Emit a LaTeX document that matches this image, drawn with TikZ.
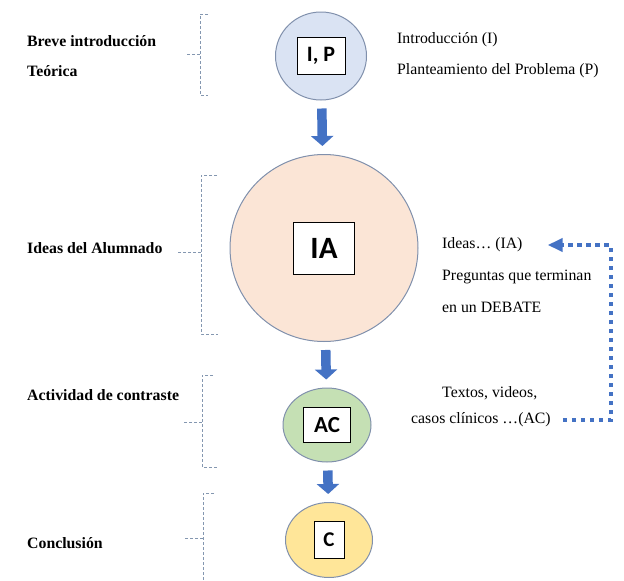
\documentclass[tikz,border=0pt]{standalone}
\usepackage{fontspec}
\setmainfont{Liberation Serif}
\newfontfamily\boxfont{Carlito}
\usetikzlibrary{arrows.meta,positioning,shapes.geometric}
\definecolor{FlowBlue}{HTML}{4472C4}
\definecolor{RimGray}{HTML}{8090AC}
\definecolor{BraceGray}{HTML}{8497B0}
\definecolor{IPBlue}{HTML}{DAE3F3}
\definecolor{IAPeach}{HTML}{FBE5D6}
\definecolor{ACGreen}{HTML}{C5E0B4}
\definecolor{CYellow}{HTML}{FFE699}

\begin{document}
\begin{tikzpicture}[
    x=1pt, y=-1pt,
    font=\fontsize{15.8}{19}\selectfont,
    stage/.style={ellipse, draw=RimGray, line width=1pt, inner sep=0pt},
    tag/.style={rectangle, draw=black, line width=0.8pt, fill=white, inner sep=0pt, font=\boxfont\bfseries\fontsize{21}{21}\selectfont},
    phase/.style={anchor=west, inner sep=0pt, font=\bfseries\fontsize{15.8}{19}\selectfont},
    note/.style={anchor=west, inner sep=0pt},
    brace/.style={draw=BraceGray, line width=0.8pt, dash pattern=on 3pt off 2pt},
    flow/.style={draw=FlowBlue, line width=9.5pt, -{Triangle[length=10pt,width=22pt]}, shorten <=8pt, shorten >=8pt},
    loopback/.style={draw=FlowBlue, line width=4.5pt, dash pattern=on 4.5pt off 4.5pt, -{Triangle[length=15pt,width=13pt]}}
]
\useasboundingbox (0,0) rectangle (624,581);

% etapas
\node[stage, fill=IPBlue, minimum width=91pt, minimum height=88pt] (ip) at (321,56) {};
\node[stage, fill=IAPeach, minimum width=188pt, minimum height=187pt] (ia) at (324,248) {};
\node[stage, fill=ACGreen, minimum width=88pt, minimum height=74pt] (ac) at (327,425) {};
\node[stage, fill=CYellow, minimum width=87pt, minimum height=75pt] (c) at (329,540) {};

\node[tag, minimum width=48pt, minimum height=37pt, font=\boxfont\bfseries\fontsize{22}{22}\selectfont] (ipbox) at (ip) {I, P};
\node[tag, minimum width=61pt, minimum height=52pt, font=\boxfont\bfseries\fontsize{31}{31}\selectfont] (iabox) at (ia) {IA};
\node[tag, minimum width=47pt, minimum height=35pt, font=\boxfont\bfseries\fontsize{23}{23}\selectfont] (acbox) at (ac) {AC};
\node[tag, minimum width=30pt, minimum height=37pt] (cbox) at (c) {C};

\draw[flow] (ip) -- (ia);
\draw[flow] (ia) -- (ac);
\draw[flow] (ac) -- (c);

% fases
\node[phase] (breve) at (27,41) {Breve introducción};
\node[phase] (teorica) at (27,71) {Teórica};
\node[phase] (ideas) at (27,248) {Ideas del Alumnado};
\node[phase] (contraste) at (27,395) {Actividad de contraste};
\node[phase] (conclusion) at (27,543) {Conclusión};

\draw[brace] (208,14) -- (200,14) -- (200,95) -- (208,95);
\draw[brace] (200,54) -- (187,54);
\draw[brace] (217,175) -- (201,175) -- (201,334) -- (218,334);
\draw[brace] (201,252) -- (178,252);
\draw[brace] (213,375) -- (202,375) -- (202,467) -- (217,467);
\draw[brace] (202,422) -- (183,422);
\draw[brace] (214,493) -- (203,493) -- (203,581);
\draw[brace] (203,538) -- (185,538);

% notas
\node[note] (intro) at (397,40) {Introducción (I)};
\node[note] (plante) at (397,71) {Planteamiento del Problema (P)};
\node[note] (ideasia) at (442,245) {Ideas… (IA)};
\node[note] (preg) at (442,277) {Preguntas que terminan};
\node[note] (debate) at (442,307) {en un DEBATE};
\node[note] (textos) at (442,393) {Textos, videos,};
\node[note] (casos) at (411,420) {casos clínicos …(AC)};

\draw[loopback] ([xshift=12pt]casos.east) -- ([xshift=60pt]casos.east) |- ([xshift=25pt]ideasia.east);
\end{tikzpicture}
\end{document}
